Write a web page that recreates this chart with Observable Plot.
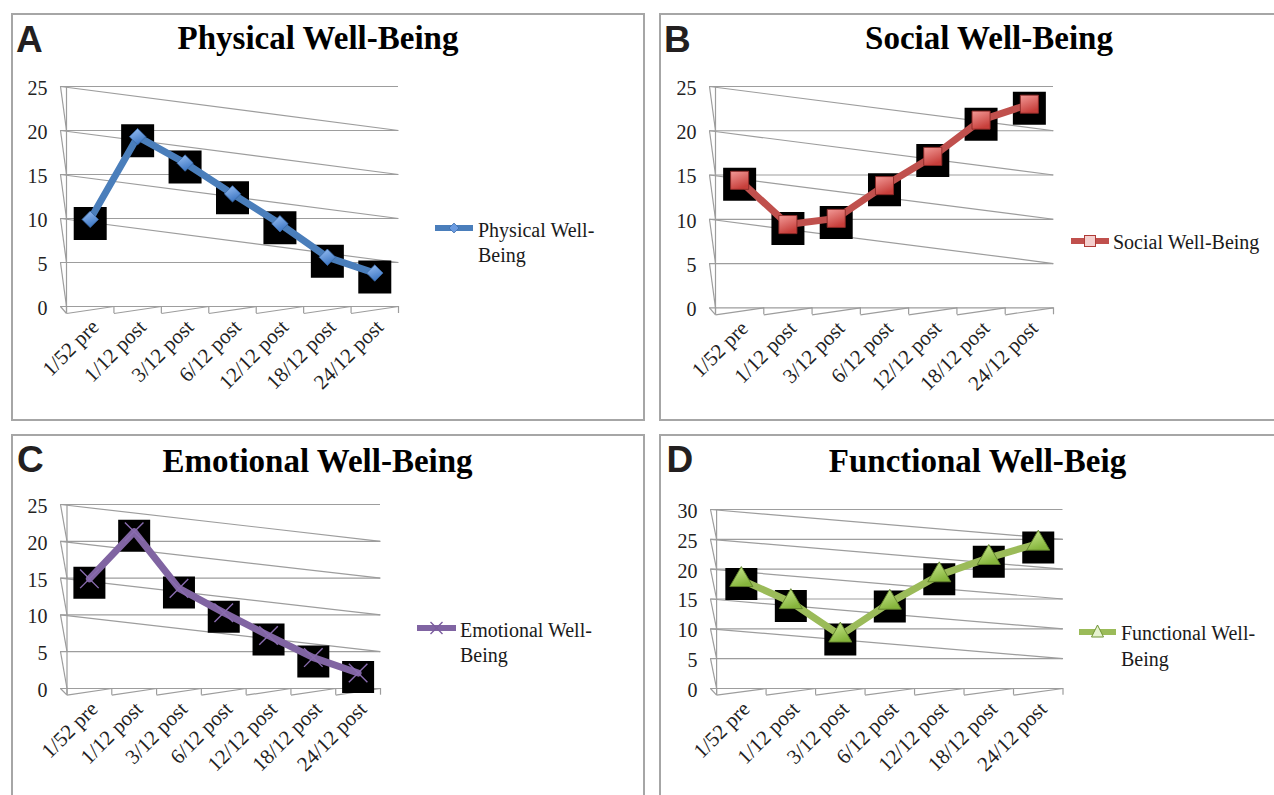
<!DOCTYPE html>
<html>
<head>
<meta charset="utf-8">
<script src="https://cdn.jsdelivr.net/npm/d3@7"></script>
<script src="https://cdn.jsdelivr.net/npm/@observablehq/plot@0.6"></script>
<style>
html,body{margin:0;padding:0;background:#fff;overflow:hidden;}
#page{position:relative;width:1274px;height:795px;overflow:hidden;background:#fff;}
.box{position:absolute;border:2px solid #a6a6a6;box-sizing:border-box;}
.letter{position:absolute;font-family:"Liberation Sans",Arial,sans-serif;font-weight:bold;font-size:37px;line-height:37px;color:#231f20;white-space:nowrap;}
.title{position:absolute;font-family:"Liberation Serif","Times New Roman",serif;font-weight:bold;font-size:33px;line-height:33px;color:#000;white-space:nowrap;transform:translateX(-50%);}
.leg{position:absolute;font-family:"Liberation Serif","Times New Roman",serif;font-size:20px;line-height:20px;color:#1a1a1a;white-space:nowrap;}
.plot{position:absolute;}
.sw{position:absolute;overflow:visible;}
</style>
</head>
<body>
<div id="page"></div>
<script>
// ---------- data ----------
const categories = ["1/52 pre", "1/12 post", "3/12 post", "6/12 post", "12/12 post", "18/12 post", "24/12 post"];
const physical   = [9.9, 19.3, 16.3, 12.8, 9.4, 5.6, 3.8];
const social     = [14.4, 9.4, 10.1, 13.8, 17.1, 21.2, 23.0];
const emotional  = [14.9, 21.3, 13.6, 10.3, 7.2, 4.2, 2.1];
const functional = [18.2, 14.5, 8.9, 14.4, 19.0, 21.9, 24.3];
const ticks25 = [0, 5, 10, 15, 20, 25];
const ticks30 = [0, 5, 10, 15, 20, 25, 30];
const panelLetters = ["A", "B", "C", "D"];
const panelTitles = ["Physical Well-Being", "Social Well-Being", "Emotional Well-Being", "Functional Well-Beig"];
const legendLines = [["Physical Well-", "Being"], ["Social Well-Being"], ["Emotional Well-", "Being"], ["Functional Well-", "Being"]];

// ---------- layout (page pixels) ----------
const layouts = [
  {box:[11,13,634,408], gx0:60, wall:66, gx1:398, y0:306, yTop:86, floor:7, sq:33,
   leg:{x0:435,x1:473,y:228,tx:478,base:[237,261.5]}, title:{cx:318,base:50}, letter:{x:16,base:52}},
  {box:[659,13,700,408], gx0:709, wall:715, gx1:1053, y0:307.3, yTop:86, floor:7, sq:33,
   leg:{x0:1071,x1:1109,y:241,tx:1113,base:[248.5]}, title:{cx:989,base:50}, letter:{x:664,base:52}},
  {box:[11,434,634,400], gx0:60, wall:66.5, gx1:380, y0:688.3, yTop:504.3, floor:6.7, sq:32,
   leg:{x0:417,x1:456,y:628,tx:460,base:[636.7,661.7]}, title:{cx:317.5,base:472.7}, letter:{x:17,base:472.5}},
  {box:[659,434,700,400], gx0:709.5, wall:715.6, gx1:1062, y0:688.3, yTop:509.3, floor:6.7, sq:32,
   leg:{x0:1079,x1:1116,y:632,tx:1121,base:[640,665.7]}, title:{cx:977.5,base:473}, letter:{x:666.5,base:472.5}}
];

const serif = "'Liberation Serif','Times New Roman',serif";
const gridStyle = {stroke: "#9d9d9d", strokeWidth: 1.2};

function gradientDefs(id, c1, c2) {
  return () => {
    const ns = "http://www.w3.org/2000/svg";
    const defs = document.createElementNS(ns, "defs");
    defs.innerHTML = `<linearGradient id="${id}" x1="0" y1="0" x2="0.4" y2="1"><stop offset="0" stop-color="${c1}"/><stop offset="1" stop-color="${c2}"/></linearGradient>`;
    return defs;
  };
}

const styles = [
  {color: "#4a7ebb", defs: gradientDefs("gA", "#9cc2f5", "#3f78c4"),
   marker: {symbol: "diamond2", r: 7.4, fill: "url(#gA)", stroke: "#3a6aa8", strokeWidth: 0.8}},
  {color: "#c0504d", defs: gradientDefs("gB", "#f29a97", "#c73f3b"),
   marker: {symbol: "square", r: 10.2, fill: "url(#gB)", stroke: "#8a2826", strokeWidth: 0.9}},
  {color: "#8064a2", defs: gradientDefs("gC", "#8064a2", "#8064a2"),
   marker: {symbol: "times", r: 8.5, fill: "none", stroke: "#8a6cb0", strokeWidth: 1.4}},
  {color: "#9bbb59", defs: gradientDefs("gD", "#cdeb93", "#86b53c"),
   marker: {symbol: "triangle2", r: 11, fill: "url(#gD)", stroke: "#5f7f2a", strokeWidth: 0.9}}
];

const seriesList = [physical, social, emotional, functional];
const tickList = [ticks25, ticks25, ticks25, ticks30];

const page = document.getElementById("page");

function addDiv(cls, css, text) {
  const d = document.createElement("div");
  d.className = cls;
  Object.assign(d.style, css);
  if (text !== undefined) d.textContent = text;
  page.appendChild(d);
  return d;
}

function drawPanel(k) {
  const p = layouts[k], values = seriesList[k], ticks = tickList[k], st = styles[k];
  const yMax = d3.max(ticks);
  const band = (p.gx1 - p.wall) / categories.length;
  const xl = -0.5 - (p.wall - p.gx0) / band;
  const xr = categories.length - 0.5;
  const fd = p.floor / ((p.y0 - p.yTop) / yMax);
  const mL = 50, mR = 20, mT = 30, mB = 115;
  const left = p.gx0 - mL, top = p.yTop - mT;
  const width = p.gx1 + mR - left, height = p.y0 + mB - top;
  const data = values.map((v, i) => ({i, v}));
  const idx = d3.range(categories.length);

  const chart = Plot.plot({
    width, height,
    marginLeft: mL, marginRight: mR, marginTop: mT, marginBottom: mB,
    x: {type: "linear", domain: [xl, xr], label: null},
    y: {type: "linear", domain: [0, yMax], label: null},
    style: {background: "transparent", overflow: "visible", fontFamily: serif, fontSize: "20px"},
    marks: [
      st.defs,
      Plot.ruleY(ticks, {y: d => d, x1: () => xl, x2: () => xr, ...gridStyle}),
      Plot.link(ticks.filter(t => t >= 10), {x1: () => xl, y1: t => t, x2: () => xr, y2: t => t - 5, ...gridStyle}),
      Plot.link(ticks, {x1: () => xl, y1: t => t, x2: () => -0.5, y2: t => (t === 0 ? -fd : t - 5), ...gridStyle}),
      Plot.ruleX([-0.5], {x: d => d, y1: () => -fd, y2: () => yMax, ...gridStyle}),
      Plot.ruleX(idx.concat([categories.length]).map(i => i - 0.5), {x: d => d, y1: () => -fd, y2: () => 0, ...gridStyle}),
      Plot.link(idx, {x1: i => i - 0.5, y1: () => -fd, x2: i => i + 0.5, y2: () => 0, ...gridStyle}),
      Plot.dot(data, {x: "i", y: "v", symbol: "square", r: p.sq / Math.sqrt(Math.PI), fill: "#000", dy: 4}),
      Plot.line(data, {x: "i", y: "v", stroke: st.color, strokeWidth: 7, strokeLinejoin: "round"}),
      Plot.dot(data, {x: "i", y: "v", ...st.marker}),
      Plot.axisY({ticks, tickSize: 0, tickPadding: 13, fontSize: 20, fontFamily: serif, fill: "#222", dy: 2, label: null}),
      Plot.axisX({ticks: idx, tickFormat: i => categories[i], tickRotate: -45, tickSize: 0, tickPadding: 17,
                  fontSize: 21, fontFamily: serif, fill: "#222", dx: 5, label: null})
    ]
  });
  chart.classList.add("plot");
  chart.style.left = left + "px";
  chart.style.top = top + "px";
  chart.style.maxWidth = "none";
  page.appendChild(chart);
}

function swatch(k) {
  const p = layouts[k].leg, st = styles[k];
  const ns = "http://www.w3.org/2000/svg";
  const w = p.x1 - p.x0 + 10, h = 24;
  const svg = document.createElementNS(ns, "svg");
  svg.setAttribute("class", "sw");
  svg.setAttribute("width", w);
  svg.setAttribute("height", h);
  svg.style.left = (p.x0 - 5) + "px";
  svg.style.top = (p.y - h / 2) + "px";
  const cx = w / 2, cy = h / 2;
  let mk = "";
  if (k === 0) mk = `<path d="M${cx},${cy-5}L${cx+5},${cy}L${cx},${cy+5}L${cx-5},${cy}Z" fill="#6b9be0" stroke="#3a6aa8" stroke-width="0.7"/>`;
  if (k === 1) mk = `<rect x="${cx-5.5}" y="${cy-5.5}" width="11" height="11" fill="#f4cfce" stroke="#b03a37" stroke-width="1"/>`;
  if (k === 2) mk = `<path d="M${cx-6},${cy-6}L${cx+6},${cy+6}M${cx+6},${cy-6}L${cx-6},${cy+6}" stroke="#7a5c9e" stroke-width="1.4"/>`;
  if (k === 3) mk = `<path d="M${cx},${cy-7}L${cx+6},${cy+5}L${cx-6},${cy+5}Z" fill="#e6f2cf" stroke="#6f9433" stroke-width="1"/>`;
  svg.innerHTML = `<line x1="5" x2="${w-5}" y1="${cy}" y2="${cy}" stroke="${st.color}" stroke-width="6"/>` + mk;
  page.appendChild(svg);
}

for (let k = 0; k < 4; k++) {
  const p = layouts[k];
  addDiv("box", {left: p.box[0] + "px", top: p.box[1] + "px", width: p.box[2] + "px", height: p.box[3] + "px"});
}
for (let k = 0; k < 4; k++) {
  const p = layouts[k];
  drawPanel(k);
  addDiv("letter", {left: p.letter.x + "px", top: (p.letter.base - 0.8465 * 37) + "px"}, panelLetters[k]);
  addDiv("title", {left: p.title.cx + "px", top: (p.title.base - 0.8375 * 33) + "px"}, panelTitles[k]);
  legendLines[k].forEach((line, j) => {
    addDiv("leg", {left: p.leg.tx + "px", top: (p.leg.base[j] - 0.8375 * 20) + "px"}, line);
  });
  swatch(k);
}
</script>
</body>
</html>
